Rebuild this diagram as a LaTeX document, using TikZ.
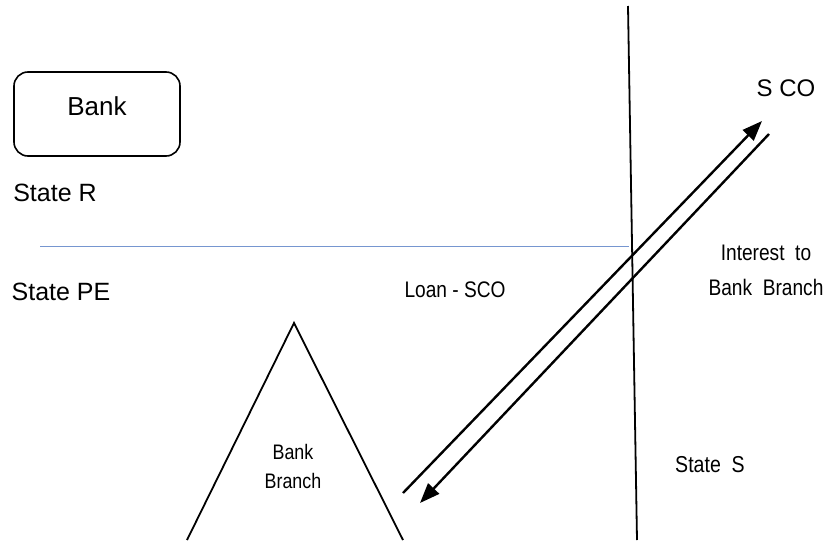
\documentclass[tikz,border=0pt]{standalone}
\usepackage{fontspec}
\setmainfont{Liberation Sans}
\newfontfamily\narrowfont[FakeStretch=0.85]{Liberation Sans}
\usetikzlibrary{arrows.meta}
\definecolor{borderblue}{RGB}{118,150,208}
\tikzset{
    lbl/.style={inner sep=0pt, font=\fontsize{25}{30}\selectfont},
    nlbl/.style={inner sep=0pt, align=center, font=\narrowfont\fontsize{22.5}{35}\selectfont},
    flow/.style={line width=2.4pt, -{Triangle[length=20pt,width=15pt]}}
}
\begin{document}
\begin{tikzpicture}[x=1pt,y=-1pt]
            \useasboundingbox (0,0) rectangle (825,541);
            % states and border
            \node[draw, line width=1.6pt, rounded corners=14pt, minimum width=166pt, minimum height=84pt, text depth=16pt, font=\fontsize{26}{30}\selectfont] (bank) at (97,114) {Bank};
            \node[lbl] (stateR) at (55,193) {State R};
            \node[lbl] (statePE) at (61,292) {State PE};
            \coordinate (bl) at (40,246);
            \coordinate (br) at (629,246);
            \draw[borderblue, line width=1pt] (bl) -- (br);
            \coordinate (vt) at (628,6);
            \coordinate (vb) at (637,540);
            \draw[line width=1.8pt] (vt) -- (vb);
            % bank branch
            \coordinate (apex) at (294,323);
            \coordinate (bleft) at (187,540);
            \coordinate (bright) at (403,540);
            \draw[line width=1.8pt] (bleft) -- (apex) -- (bright);
            \node[nlbl, font=\narrowfont\fontsize{21}{29}\selectfont] (branch) at (293,466) {Bank\\Branch};
            % other labels
            \node[nlbl] (loan) at (455,290) {Loan - SCO};
            \node[nlbl] (interest) at (766,270) {Interest~~to\\Bank~~Branch};
            \node[lbl, font=\fontsize{24}{30}\selectfont] (sco) at (786,88) {S CO};
            \node[nlbl, font=\narrowfont\fontsize{23}{30}\selectfont] (stateS) at (710,465) {State~~S};
            % flows
            \coordinate (l0) at (403,493);
            \coordinate (l1) at (762,121);
            \coordinate (i0) at (769,134);
            \coordinate (i1) at (420,503);
            \draw[flow] (l0) -- (l1);
            \draw[flow] (i0) -- (i1);
\end{tikzpicture}
\end{document}
